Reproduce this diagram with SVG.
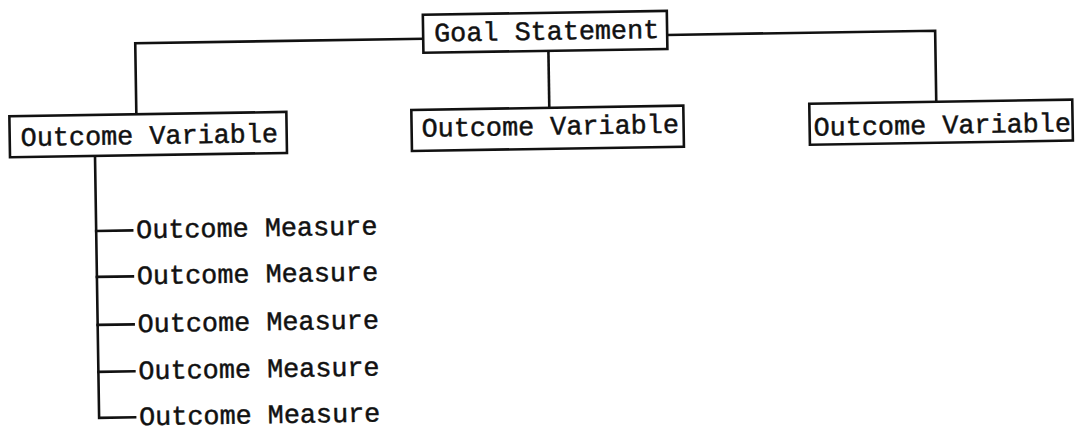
<svg xmlns="http://www.w3.org/2000/svg" width="1075" height="433" viewBox="0 0 1075 433">
  <style>
    .box { fill: #ffffff; stroke: #111111; stroke-width: 2.6; }
    .wire { fill: none; stroke: #111111; stroke-width: 2.6; stroke-linecap: square; }
    .lbl { font-family: "Liberation Mono", "DejaVu Sans Mono", monospace; font-size: 26.8px; fill: #111111; stroke: #111111; stroke-width: 0.45; }
  </style>
  <rect width="1075" height="433" fill="#ffffff"/>
  <!-- the typed sheet sits slightly askew -->
  <g transform="rotate(-0.9 537 216)">
    <g id="connectors">
      <polyline class="wire" points="138,108 138,37 426,37"/>
      <polyline class="wire" points="670,37 938,37 938,108"/>
      <line class="wire" x1="551" y1="51" x2="551" y2="108"/>
      <polyline class="wire" points="96,149 96,411 132,411"/>
      <line class="wire" x1="96" y1="224" x2="132" y2="224"/>
      <line class="wire" x1="96" y1="270" x2="132" y2="270"/>
      <line class="wire" x1="96" y1="318" x2="132" y2="318"/>
      <line class="wire" x1="96" y1="365" x2="132" y2="365"/>
    </g>
    <g id="goal">
      <rect class="box" x="426" y="13" width="244" height="38"/>
      <text class="lbl" x="437" y="40">Goal Statement</text>
    </g>
    <g id="variable-left">
      <rect class="box" x="11" y="108" width="277" height="41"/>
      <text class="lbl" x="22" y="138">Outcome Variable</text>
    </g>
    <g id="variable-middle">
      <rect class="box" x="413" y="108" width="272" height="41"/>
      <text class="lbl" x="423" y="135">Outcome Variable</text>
    </g>
    <g id="variable-right">
      <rect class="box" x="811" y="108" width="263" height="41"/>
      <text class="lbl" x="815" y="140">Outcome Variable</text>
    </g>
    <g id="measure-1"><text class="lbl" x="136" y="232">Outcome Measure</text></g>
    <g id="measure-2"><text class="lbl" x="136" y="278">Outcome Measure</text></g>
    <g id="measure-3"><text class="lbl" x="136" y="326">Outcome Measure</text></g>
    <g id="measure-4"><text class="lbl" x="136" y="373">Outcome Measure</text></g>
    <g id="measure-5"><text class="lbl" x="136" y="419">Outcome Measure</text></g>
  </g>
</svg>
